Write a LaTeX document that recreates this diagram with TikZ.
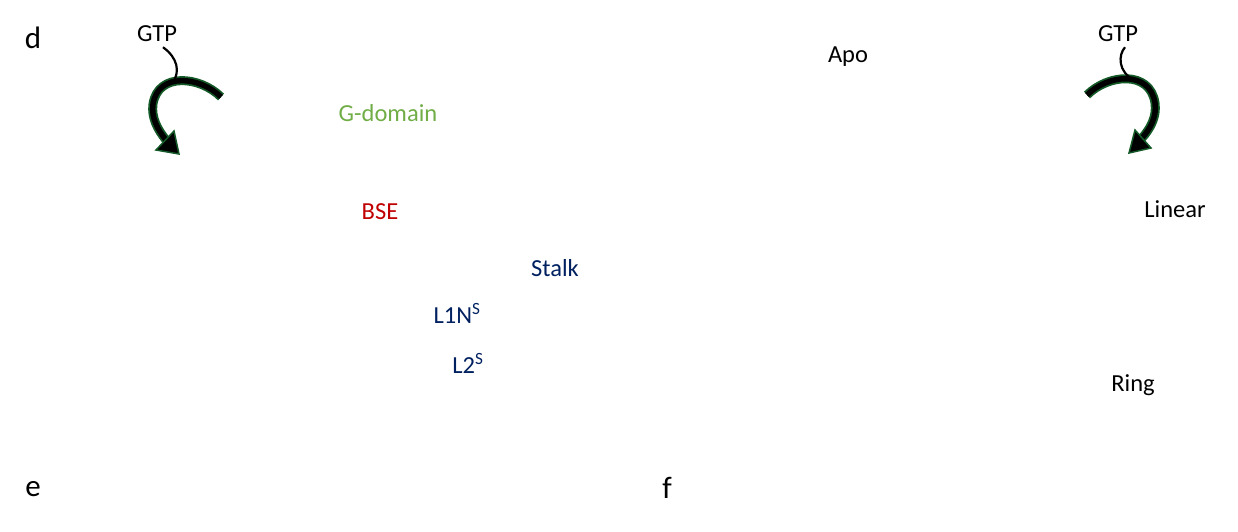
\documentclass[tikz,border=0pt]{standalone}
\usepackage{fontspec}
\setmainfont{Carlito}
\usetikzlibrary{arrows.meta}
\definecolor{gdom}{RGB}{112,173,71}
\definecolor{bse}{RGB}{192,0,0}
\definecolor{navy}{RGB}{0,32,96}
\definecolor{outl}{RGB}{20,90,40}
\tikzset{
  lbl/.style={inner sep=0pt, font=\fontsize{24.5}{28}\selectfont},
  panel/.style={inner sep=0pt, font=\fontsize{31}{35}\selectfont},
  shaftout/.style={line width=9pt, outl},
  shaftin/.style={line width=5.5pt, black},
  headtri/.style={fill=black, draw=outl, line width=1.5pt, line join=miter},
  thin/.style={line width=2.2pt, black},
}
\begin{document}
\begin{tikzpicture}[x=1pt,y=-1pt]
\useasboundingbox (0,0) rectangle (1238,531);
% labels
\node[panel] (d) at (33,38) {d};
\node[panel] (e) at (33,489) {e};
\node[panel] (f) at (667,488) {f};
\node[lbl] (gtpL) at (157,34) {GTP};
\node[lbl] (gtpR) at (1118,34) {GTP};
\node[lbl, text=gdom] (gdomain) at (388,113) {G-domain};
\node[lbl, text=bse] (bse) at (380,212) {BSE};
\node[lbl, text=navy] (stalk) at (555,268) {Stalk};
\node[lbl, text=navy] (l1n) at (457,313) {L1N\textsuperscript{S}};
\node[lbl, text=navy] (l2) at (468,363) {L2\textsuperscript{S}};
\node[lbl] (apo) at (848,57) {Apo};
\node[lbl] (linear) at (1175,209) {Linear};
\node[lbl] (ring) at (1133,385) {Ring};
% left arrow
\coordinate (aLs) at (221,97);
\coordinate (aLe) at (166,140);
\draw[shaftout] (aLs) .. controls (200,76) and (158,72) .. (153,104) .. controls (151,118) and (158,130) .. (aLe);
\draw[shaftin] (aLs) .. controls (200,76) and (158,72) .. (153,104) .. controls (151,118) and (158,130) .. (aLe);
\coordinate (hL1) at (156,150);
\coordinate (hL2) at (174,131);
\coordinate (hL3) at (179,154);
\draw[headtri] (hL1) -- (hL2) -- (hL3) -- cycle;
\draw[thin] (gtpL.south) ++(6,5) .. controls (178,58) and (180,72) .. (173,82);
% right arrow
\coordinate (aRs) at (1087,95);
\coordinate (aRe) at (1142,138);
\draw[shaftout] (aRs) .. controls (1108,74) and (1150,70) .. (1155,103) .. controls (1157,117) and (1150,129) .. (aRe);
\draw[shaftin] (aRs) .. controls (1108,74) and (1150,70) .. (1155,103) .. controls (1157,117) and (1150,129) .. (aRe);
\coordinate (hR1) at (1151,148);
\coordinate (hR2) at (1135,130);
\coordinate (hR3) at (1129,153);
\draw[headtri] (hR1) -- (hR2) -- (hR3) -- cycle;
\draw[thin] (gtpR.south) ++(7,5) .. controls (1118,55) and (1118,72) .. (1134,80);
\end{tikzpicture}
\end{document}
